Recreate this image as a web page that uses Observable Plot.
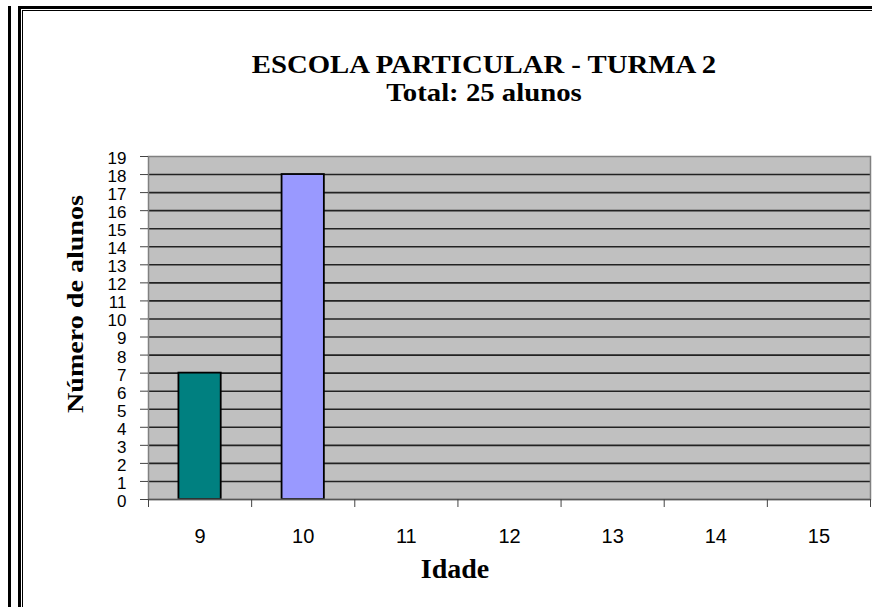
<!DOCTYPE html>
<html>
<head>
<meta charset="utf-8">
<script src="https://cdn.jsdelivr.net/npm/d3@7"></script>
<script src="https://cdn.jsdelivr.net/npm/@observablehq/plot@0.6"></script>
<style>
  html, body { margin: 0; padding: 0; background: #fff; }
  #wrap { position: relative; width: 872px; height: 607px; overflow: hidden; background: #fff; }
  .frame { position: absolute; box-sizing: border-box; }
  #title { position: absolute; left: 96px; width: 776px; top: 51px;
    text-align: center; font-family: "Liberation Serif", "Times New Roman", serif; font-weight: bold;
    font-size: 25px; line-height: 28px; color: #000; transform: scaleX(1.15); transform-origin: 388px 0; }
  #chart { position: absolute; left: 0; top: 0; }
</style>
</head>
<body>
<div id="wrap">
  <div class="frame" style="left:8px; top:6px; width:3px; height:700px; background:#000;"></div>
  <div class="frame" style="left:18px; top:6px; width:1000px; height:700px; border-left:3px solid #000; border-top:3px solid #000;"></div>
  <div class="frame" style="left:22px; top:10px; width:1000px; height:700px; border-left:1px solid #000; border-top:1px solid #000;"></div>
  <div id="chart"></div>
  <div id="title">ESCOLA PARTICULAR - TURMA 2<br>Total: 25 alunos</div>
</div>
<script>
const ages = [9, 10, 11, 12, 13, 14, 15];
const counts = [7, 18, 0, 0, 0, 0, 0];
const barColors = ["#008080", "#9999FF", "#993366", "#FFFFCC", "#CCFFFF", "#660066", "#FF8080"];
const yTicks = d3.range(0, 20);
const gridValues = d3.range(1, 19);
const xTitle = "Idade";
const yTitle = "Número de alunos";

const data = ages.map((a, i) => ({age: a, count: counts[i], color: barColors[i]}));
const barHalf = 0.205;
const boundaries = ages.map(a => a - 0.5).concat([ages[ages.length - 1] + 0.5]);
const xMin = boundaries[0];

const sans = "'Liberation Sans', Arial, sans-serif";
const serif = "'Liberation Serif', 'Times New Roman', serif";

const plot = Plot.plot({
  width: 872,
  height: 607,
  marginLeft: 148,
  marginRight: 2,
  marginTop: 156,
  marginBottom: 108,
  style: {background: "transparent", fontFamily: sans, color: "#000"},
  x: {type: "linear", domain: [xMin, boundaries[boundaries.length - 1]]},
  y: {domain: [0, 19]},
  marks: [
    Plot.frame({fill: "#C0C0C0", stroke: "none"}),
    Plot.ruleY(gridValues, {stroke: "#222", strokeWidth: 1.6}),
    Plot.rect(data.filter(d => d.count > 0), {
      x1: d => d.age - barHalf, x2: d => d.age + barHalf,
      y1: 0, y2: "count", fill: "color", stroke: "#000", strokeWidth: 1.8
    }),
    Plot.frame({stroke: "#808080", strokeWidth: 1.5}),
    Plot.ruleY([0], {stroke: "#555", strokeWidth: 1.5}),
    Plot.axisY({ticks: yTicks, tickSize: 8, tickFormat: () => "", label: null, stroke: "#444"}),
    Plot.axisX({ticks: boundaries, tickSize: 8, tickFormat: () => "", label: null, stroke: "#444"}),
    Plot.text(yTicks, {x: xMin, y: d => d, text: d => String(d), dx: -22, dy: 2, textAnchor: "end", lineAnchor: "middle", fontSize: 17, fontFamily: sans, fill: "#000"}),
    Plot.text(ages, {x: d => d, frameAnchor: "bottom", text: d => String(d), dy: 37, textAnchor: "middle", lineAnchor: "middle", fontSize: 20, fontFamily: sans, fill: "#000"}),
    Plot.text([xTitle], {frameAnchor: "bottom", dx: -54.5, dy: 59, fontFamily: serif, fontWeight: "bold", fontSize: 28, textAnchor: "middle", lineAnchor: "top"}),
    Plot.text([yTitle], {frameAnchor: "left", dx: -73.5, dy: -24, rotate: -90, fontFamily: serif, fontWeight: "bold", fontSize: 24, textAnchor: "middle"})
  ]
});
document.getElementById("chart").appendChild(plot);
plot.querySelectorAll("text").forEach(t => {
  if (t.textContent === yTitle) {
    const tr = t.getAttribute("transform") || "";
    t.setAttribute("transform", tr + " scale(1.17,1)");
  }
});
</script>
</body>
</html>
